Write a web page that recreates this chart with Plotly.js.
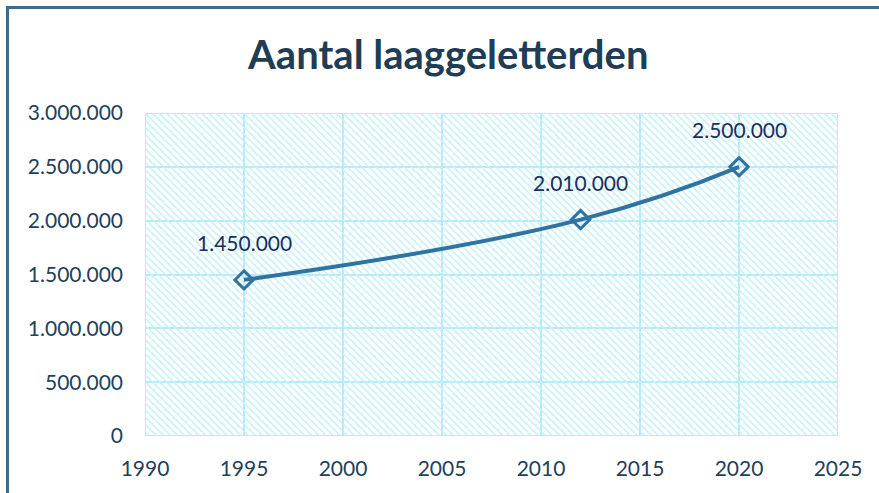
<!DOCTYPE html>
<html>
<head>
<meta charset="utf-8">
<script src="https://cdn.plot.ly/plotly-3.0.1.min.js"></script>
<style>
  body { margin: 0; background: #ffffff; }
  #chart { position: absolute; left: 0; top: 0; width: 879px; height: 493px; }
  #frame { position: absolute; left: 6px; top: 6px; width: 900px; height: 520px;
           border-left: 3px solid #3f6a8c; border-top: 3px solid #3f6a8c; pointer-events: none; }
</style>
</head>
<body>
<div id="chart"></div>
<div id="frame"></div>
<script>
const years = [1995, 2012, 2020];
const counts = [1450000, 2010000, 2500000];
const labels = ['1.450.000', '2.010.000', '2.500.000'];
const xRange = [1990, 2025];
const yRange = [0, 3000000];

const textColor = '#243f5a';
const lineColor = '#2f74a0';
const gridColor = '#b3ebf7';

// hatched plot background, spans the axis ranges (transparent gaps so the grid shows)
const hatch = {
    x: [xRange[0], xRange[1], xRange[1], xRange[0], xRange[0]],
    y: [yRange[0], yRange[0], yRange[1], yRange[1], yRange[0]],
    mode: 'lines',
    fill: 'toself',
    line: { width: 0 },
    fillcolor: 'rgba(0,0,0,0)',
    fillpattern: { shape: '\\', fgcolor: '#c4f0f8', bgcolor: 'rgba(0,0,0,0)', size: 5, solidity: 0.3 },
    hoverinfo: 'skip',
    showlegend: false
};

const series = {
    x: years,
    y: counts,
    mode: 'lines+markers',
    line: { color: lineColor, width: 4, shape: 'spline', smoothing: 1.3 },
    marker: { symbol: 'diamond-open', size: 14, color: lineColor, line: { width: 3, color: lineColor } },
    showlegend: false
};

const annotations = years.map((yr, i) => ({
    x: yr,
    y: counts[i],
    text: labels[i],
    showarrow: false,
    yshift: 37,
    font: { family: 'Lato, sans-serif', size: 21, color: '#1b2f5c' }
}));

const layout = {
    width: 879,
    height: 493,
    margin: { l: 145, r: 41, t: 113, b: 57 },
    paper_bgcolor: '#ffffff',
    plot_bgcolor: '#ffffff',
    separators: ',.',
    title: {
        text: '<b>Aantal laaggeletterden</b>',
        font: { family: 'Lato, sans-serif', size: 40, color: '#213c55' },
        x: 0.51, xanchor: 'center',
        y: 0.888, yanchor: 'middle'
    },
    xaxis: {
        range: xRange,
        dtick: 5,
        tick0: 1990,
        showgrid: true,
        gridcolor: gridColor,
        gridwidth: 2,
        zeroline: false,
        showline: false,
        ticks: '',
        ticklabelstandoff: 18,
        tickfont: { family: 'Lato, sans-serif', size: 21, color: textColor }
    },
    yaxis: {
        range: yRange,
        dtick: 500000,
        tickformat: ',d',
        showgrid: true,
        gridcolor: gridColor,
        gridwidth: 2,
        zeroline: false,
        showline: false,
        ticks: '',
        ticklabelstandoff: 21,
        tickfont: { family: 'Lato, sans-serif', size: 21, color: textColor }
    },
    annotations: annotations,
    shapes: [{
        type: 'rect', xref: 'x', yref: 'y',
        x0: xRange[0], x1: xRange[1], y0: yRange[0], y1: yRange[1],
        line: { color: gridColor, width: 2 }, layer: 'below'
    }]
};

Plotly.newPlot('chart', [hatch, series], layout, { displayModeBar: false, staticPlot: true });
</script>
</body>
</html>
